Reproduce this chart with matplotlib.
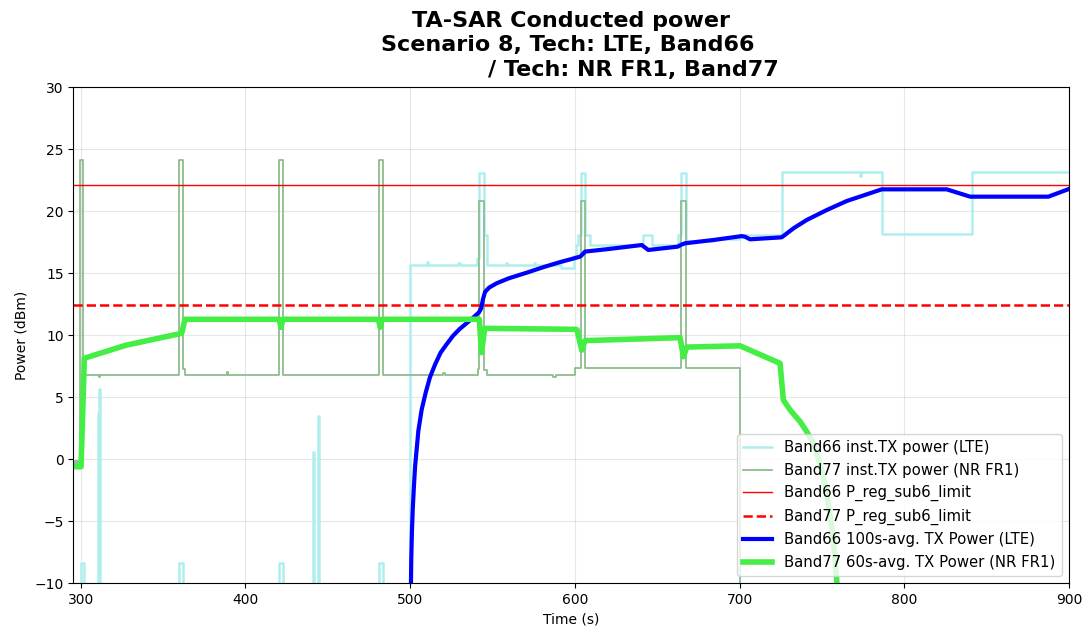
import numpy as np
import matplotlib
matplotlib.use('Agg')
import matplotlib.pyplot as plt

# Band66 (LTE) instantaneous TX power, step points (time s, dBm)
b66_inst_t = [295.5, 300.0, 302.0, 310.4, 311.0, 311.6, 359.9, 362.3, 420.3, 422.6,
              441.2, 441.8, 444.2, 444.8, 481.2, 483.4, 500.0, 510.0, 511.0, 529.0,
              530.0, 540.4, 541.8, 545.0, 546.6, 558.0, 559.0, 575.0, 576.0, 591.5,
              599.5, 600.5, 601.8, 603.6, 606.3, 609.3, 641.2, 646.7, 662.8, 664.6,
              667.5, 684.0, 700.3, 703.0, 725.6, 773.0, 773.8, 786.7, 841.0, 900.0]
b66_inst_p = [-40.0, -8.4, -40.0, 3.7, 5.7, -40.0, -8.4, -40.0, -8.4, -40.0,
              0.6, -40.0, 3.5, -40.0, -8.4, -40.0, 15.67, 15.9, 15.67, 15.85,
              15.67, 16.2, 23.1, 18.1, 15.7, 15.85, 15.65, 15.85, 15.65, 15.4,
              16.4, 17.3, 18.1, 23.1, 18.1, 17.28, 18.09, 17.28, 18.1, 23.1,
              17.6, 17.8, 18.0, 18.1, 23.15, 22.85, 23.15, 18.15, 23.15, 23.15]

# Band77 (NR FR1) instantaneous TX power
b77_inst_t = [295.5, 296.5, 297.0, 298.0, 298.5, 299.8, 301.6, 311.0, 311.7, 359.9,
              362.3, 363.3, 388.6, 389.2, 420.3, 422.6, 481.1, 483.3, 520.0, 521.0,
              541.2, 541.9, 545.0, 546.5, 587.0, 588.5, 600.1, 603.6, 606.2, 664.4,
              667.5, 700.3, 900.0]
b77_inst_p = [-0.6, -0.1, -0.6, -0.1, -0.6, 24.15, 6.8, 6.6, 6.8, 24.15,
              7.25, 6.8, 7.05, 6.8, 24.15, 6.8, 24.15, 6.8, 6.95, 6.8,
              7.3, 20.86, 7.2, 6.8, 6.6, 6.8, 7.34, 20.86, 7.34, 20.86,
              7.34, -40.0, -40.0]

# regulatory limits
b66_limit = 22.12
b77_limit = 12.47

# Band66 100s average
b66_avg_t = [500.4, 500.7, 501.1, 501.6, 502.3, 503.0, 505.0, 507.0, 509.5, 512.0,
             515.0, 518.5, 522.0, 526.0, 530.0, 534.5, 538.5, 541.8, 543.2, 544.2,
             545.5, 548.0, 552.6, 560.0, 570.8, 581.0, 591.0, 598.0, 603.3, 604.5,
             606.2, 620.0, 640.6, 644.6, 662.5, 664.5, 666.9, 685.0, 701.3, 703.3,
             706.4, 725.6, 733.0, 740.8, 752.9, 765.1, 771.2, 786.3, 825.8, 840.0,
             887.5, 900.0]
b66_avg_p = [-11.0, -8.0, -5.8, -4.0, -2.2, -0.6, 2.3, 4.0, 5.4, 6.6,
             7.6, 8.6, 9.25, 9.95, 10.5, 11.0, 11.45, 11.85, 12.2, 12.9,
             13.5, 13.85, 14.2, 14.6, 15.05, 15.5, 15.9, 16.15, 16.35, 16.5,
             16.75, 16.95, 17.28, 16.88, 17.15, 17.3, 17.42, 17.7, 18.0, 17.95,
             17.74, 17.9, 18.65, 19.3, 20.1, 20.83, 21.1, 21.77, 21.77, 21.18,
             21.18, 21.8]

# Band77 60s average
b77_avg_t = [295.5, 300.2, 302.2, 327.5, 361.3, 363.3, 420.5, 421.6, 422.8, 480.8,
             481.8, 483.0, 542.0, 543.3, 545.3, 600.5, 601.3, 604.2, 606.2, 663.9,
             665.9, 668.0, 700.3, 724.6, 726.6, 730.7, 736.8, 740.8, 744.8, 747.8,
             750.9, 752.9, 756.0, 757.0, 759.0, 760.5]
b77_avg_p = [-0.6, -0.6, 8.15, 9.2, 10.16, 11.29, 11.29, 10.64, 11.29, 11.29,
             10.64, 11.29, 11.29, 8.6, 10.56, 10.48, 10.45, 8.8, 9.57, 9.81,
             8.27, 9.05, 9.15, 7.74, 4.78, 3.98, 3.03, 2.23, 1.29, 0.08,
             -1.4, -2.74, -5.44, -6.5, -9.73, -13.0]

fig = plt.figure(figsize=(10.86, 6.29), dpi=100)
ax = fig.add_axes([0.0675, 0.0727, 0.9168, 0.7885])

ax.plot(b66_inst_t, b66_inst_p, drawstyle='steps-post', color='paleturquoise',
        lw=1.8, label='Band66 inst.TX power (LTE)')
ax.plot(b77_inst_t, b77_inst_p, drawstyle='steps-post', color='darkseagreen',
        lw=1.3, label='Band77 inst.TX power (NR FR1)')
ax.axhline(b66_limit, color='red', lw=1.0, label='Band66 P_reg_sub6_limit')
ax.axhline(b77_limit, color='red', lw=1.8, ls='--', label='Band77 P_reg_sub6_limit')
ax.plot(b66_avg_t, b66_avg_p, color='blue', lw=3, label='Band66 100s-avg. TX Power (LTE)')
ax.plot(b77_avg_t, b77_avg_p, color='#44ee44', lw=4, label='Band77 60s-avg. TX Power (NR FR1)')

ax.set_xlim(295.5, 900)
ax.set_ylim(-10, 30)
ax.set_xticks(np.arange(300, 901, 100))
ax.set_yticks(np.arange(-10, 31, 5))
ax.grid(True, alpha=0.3)
ax.set_xlabel('Time (s)')
ax.set_ylabel('Power (dBm)')
ax.set_title('TA-SAR Conducted power\nScenario 8, Tech: LTE, Band66 \n'
             '                / Tech: NR FR1, Band77',
             fontsize=16, fontweight='bold', linespacing=1.3, pad=8)
ax.legend(loc='lower right', fontsize=10.7)

fig.savefig('out.png', dpi=100)
